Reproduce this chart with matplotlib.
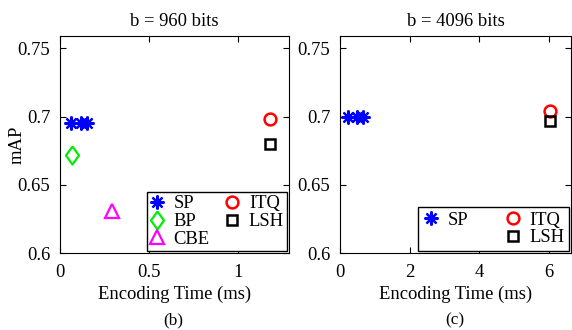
import matplotlib
matplotlib.use("Agg")
import matplotlib.pyplot as plt
from matplotlib.lines import Line2D

plt.rcParams['font.family'] = ['Liberation Serif', 'DejaVu Serif']

# panel (b): b = 960 bits
b_sp_x = [0.06, 0.12, 0.15]
b_sp_y = [0.695, 0.695, 0.695]
b_bp_x = [0.07]
b_bp_y = [0.672]
b_cbe_x = [0.29]
b_cbe_y = [0.631]
b_itq_x = [1.18]
b_itq_y = [0.698]
b_lsh_x = [1.18]
b_lsh_y = [0.680]

# panel (c): b = 4096 bits
c_sp_x = [0.22, 0.5, 0.65]
c_sp_y = [0.700, 0.700, 0.700]
c_itq_x = [6.04]
c_itq_y = [0.704]
c_lsh_x = [6.04]
c_lsh_y = [0.697]

fs = 13.4
star = (8, 2, 0)
diamond = [(0, 1), (0.72, 0), (0, -1), (-0.72, 0), (0, 1)]
styles = {
    'SP': dict(marker=star, color='b', ms=10, mew=1.6),
    'BP': dict(marker=diamond, mfc='none', mec='#00ee00', ms=13, mew=1.6),
    'CBE': dict(marker='^', mfc='none', mec='#ff00ff', ms=10, mew=1.6),
    'ITQ': dict(marker='o', mfc='none', mec='r', ms=8.5, mew=1.8),
    'LSH': dict(marker='s', mfc='none', mec='k', ms=7.5, mew=1.8),
}

fig = plt.figure(figsize=(5.72, 3.30), dpi=100)
ax1 = fig.add_axes([60/572, 1 - 253/330, 229/572, 217/330])
ax2 = fig.add_axes([340/572, 1 - 253/330, 231/572, 217/330])

h = {}
for name, xs, ys in [('SP', b_sp_x, b_sp_y), ('BP', b_bp_x, b_bp_y),
                     ('CBE', b_cbe_x, b_cbe_y), ('ITQ', b_itq_x, b_itq_y),
                     ('LSH', b_lsh_x, b_lsh_y)]:
    h[name], = ax1.plot(xs, ys, ls='none', label=name, **styles[name])

ax1.set_xlim(0, 1.285)
ax1.set_ylim(0.6, 0.759)
ax1.set_xticks([0, 0.5, 1])
ax1.set_xticklabels(['0', '0.5', '1'])
ax1.set_yticks([0.6, 0.65, 0.7, 0.75])
ax1.set_yticklabels(['0.6', '0.65', '0.7', '0.75'])
ax1.set_ylabel('mAP', fontsize=fs)
ax1.yaxis.set_label_coords(-0.15, 0.5)
ax1.set_xlabel('Encoding Time (ms)', fontsize=fs, labelpad=3)
ax1.set_title('b = 960 bits', fontsize=fs, pad=7)
ax1.legend(handles=[h['SP'], h['BP'], h['CBE'], h['ITQ'], h['LSH']],
           ncol=2, loc='lower right', fontsize=fs, fancybox=False,
           edgecolor='k', framealpha=1, borderaxespad=0.12,
           handlelength=0.8, handletextpad=0.5, columnspacing=0.8,
           labelspacing=0.05, borderpad=0.15)

g = {}
for name, xs, ys in [('SP', c_sp_x, c_sp_y), ('ITQ', c_itq_x, c_itq_y),
                     ('LSH', c_lsh_x, c_lsh_y)]:
    g[name], = ax2.plot(xs, ys, ls='none', label=name, **styles[name])
blank = Line2D([], [], ls='none', marker='none')
ax2.set_xlim(0, 6.63)
ax2.set_ylim(0.6, 0.759)
ax2.set_xticks([0, 2, 4, 6])
ax2.set_yticks([0.6, 0.65, 0.7, 0.75])
ax2.set_yticklabels(['0.6', '0.65', '0.7', '0.75'])
ax2.set_xlabel('Encoding Time (ms)', fontsize=fs, labelpad=3)
ax2.set_title('b = 4096 bits', fontsize=fs, pad=7)
ax2.legend(handles=[g['SP'], blank, g['ITQ'], g['LSH']],
           labels=['SP', ' ', 'ITQ', 'LSH'],
           ncol=2, loc='lower right', fontsize=fs, fancybox=False,
           edgecolor='k', framealpha=1, borderaxespad=0.1,
           handlelength=0.8, handletextpad=0.5, columnspacing=2.0,
           labelspacing=0.05, borderpad=0.25)

for ax in (ax1, ax2):
    ax.tick_params(direction='in', length=4, labelsize=fs, top=True,
                   right=True)
    ax.tick_params(axis='x', pad=8)
    ax.tick_params(axis='y', pad=7)
    for s in ax.spines.values():
        s.set_linewidth(0.8)

fig.text(173/572, 1 - 320/330, '(b)', ha='center', va='center', fontsize=fs - 1)
fig.text(455/572, 1 - 320/330, '(c)', ha='center', va='center', fontsize=fs - 1)

fig.savefig('out.png', dpi=100)
